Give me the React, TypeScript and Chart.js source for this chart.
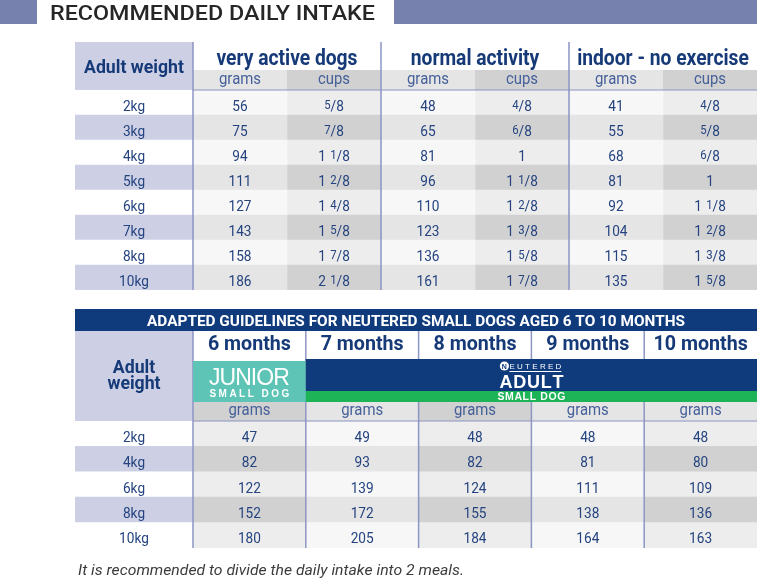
import React, { useEffect, useRef } from "react";
import { Chart, registerables } from "chart.js";
Chart.register(...registerables);

// ---------- DATA ----------
const TITLE = "RECOMMENDED DAILY INTAKE";
const weightHeader = "Adult weight";
const weights1 = ["2kg", "3kg", "4kg", "5kg", "6kg", "7kg", "8kg", "10kg"];
const groups1 = ["very active dogs", "normal activity", "indoor - no exercise"];
const subHeads1 = ["grams", "cups"];
const veryActiveGrams = [56, 75, 94, 111, 127, 143, 158, 186];
const veryActiveCups = ["5/8", "7/8", "1 1/8", "1 2/8", "1 4/8", "1 5/8", "1 7/8", "2 1/8"];
const normalGrams = [48, 65, 81, 96, 110, 123, 136, 161];
const normalCups = ["4/8", "6/8", "1", "1 1/8", "1 2/8", "1 3/8", "1 5/8", "1 7/8"];
const indoorGrams = [41, 55, 68, 81, 92, 104, 115, 135];
const indoorCups = ["4/8", "5/8", "6/8", "1", "1 1/8", "1 2/8", "1 3/8", "1 5/8"];

const TITLE2 = "ADAPTED GUIDELINES FOR NEUTERED SMALL DOGS AGED 6 TO 10 MONTHS";
const weightHeader2 = ["Adult", "weight"];
const weights2 = ["2kg", "4kg", "6kg", "8kg", "10kg"];
const months = ["6 months", "7 months", "8 months", "9 months", "10 months"];
const juniorLabel = ["JUNIOR", "SMALL DOG"];
const adultLabel = ["EUTERED", "ADULT", "SMALL DOG"];
const subHead2 = "grams";
const month6 = [47, 82, 122, 152, 180];
const month7 = [49, 93, 139, 172, 205];
const month8 = [48, 82, 124, 155, 184];
const month9 = [48, 81, 111, 138, 164];
const month10 = [48, 80, 109, 136, 163];
const FOOTNOTE = "It is recommended to divide the daily intake into 2 meals.";

// ---------- STYLE ----------
const FONT = "Roboto";
const C = {
  banner: "#7781ad",
  title: "#262626",
  lav: "#cdd0e5",
  line: "#8d95c3",
  head: "#163a78",
  sub: "#45609a",
  cell: "#24437f",
  lightA: "#f7f7f7",
  lightB: "#ededed",
  darkA: "#e5e5e5",
  darkB: "#d1d1d1",
  navy: "#0f3a7c",
  teal: "#5ec4b6",
  green: "#1db357",
  foot: "#3c3c3c",
};
type Sty = { font: string; sample: string; w: number };
const S: Record<string, Sty> = {
  title: { font: `500 20px ${FONT}`, sample: TITLE, w: 325 },
  group: { font: `bold 22px ${FONT}`, sample: "very active dogs", w: 141 },
  wHead: { font: `bold 18px ${FONT}`, sample: "Adult weight", w: 100 },
  sub: { font: `16px ${FONT}`, sample: "grams", w: 42 },
  cell: { font: `15px ${FONT}`, sample: "143", w: 23 },
  band: { font: `bold 15px ${FONT}`, sample: TITLE2, w: 538 },
  month: { font: `bold 21px ${FONT}`, sample: "6 months", w: 83 },
  foot: { font: `italic 15px ${FONT}`, sample: FOOTNOTE, w: 386 },
};

function sxOf(ctx: CanvasRenderingContext2D, s: Sty) {
  ctx.font = s.font;
  return s.w / ctx.measureText(s.sample).width;
}

function drawText(ctx: CanvasRenderingContext2D, t: string, x: number, y: number, st: Sty, color: string, align = "center") {
  const sx = sxOf(ctx, st);
  ctx.save();
  ctx.font = st.font;
  ctx.fillStyle = color;
  ctx.textAlign = "left";
  ctx.textBaseline = "alphabetic";
  const w = ctx.measureText(t).width * sx;
  const left = align === "center" ? x - w / 2 : align === "left" ? x : x - w;
  ctx.translate(left, y);
  ctx.scale(sx, 1);
  ctx.fillText(t, 0, 0);
  ctx.restore();
}

function spaced(ctx: CanvasRenderingContext2D, t: string, cx: number, y: number, font: string, color: string, target: number) {
  ctx.save();
  ctx.font = font;
  ctx.fillStyle = color;
  ctx.textAlign = "left";
  const chars = Array.from(t);
  const ws = chars.map((c) => ctx.measureText(c).width);
  const nat = ws.reduce((a, b) => a + b, 0);
  const gap = chars.length > 1 ? (target - nat) / (chars.length - 1) : 0;
  let x = cx - target / 2;
  chars.forEach((c, i) => {
    ctx.fillText(c, x, y);
    x += ws[i] + gap;
  });
  ctx.restore();
}

function drawCups(ctx: CanvasRenderingContext2D, t: string, cx: number, y: number, color: string) {
  const sx = sxOf(ctx, S.cell);
  const parts = t.split(" ");
  let whole = "";
  let frac = "";
  if (parts.length === 2) { whole = parts[0]; frac = parts[1]; }
  else if (t.includes("/")) frac = t;
  else whole = t;
  const big = `15px ${FONT}`;
  const small = `12.5px ${FONT}`;
  const pieces: [string, string, number][] = [];
  if (whole) pieces.push([whole, big, 0]);
  if (whole && frac) pieces.push([" ", big, 0]);
  if (frac) {
    const [n, d] = frac.split("/");
    pieces.push([n, small, -2]);
    pieces.push(["/", big, 0]);
    pieces.push([d, big, 0.5]);
  }
  ctx.save();
  ctx.fillStyle = color;
  ctx.textAlign = "left";
  const ws = pieces.map(([s, f]) => { ctx.font = f; return ctx.measureText(s).width * sx * (s === " " ? 1.3 : 1); });
  const total = ws.reduce((a, b) => a + b, 0);
  let x = cx - total / 2;
  pieces.forEach(([s, f, dy], i) => {
    ctx.font = f;
    ctx.save();
    ctx.translate(x, y + dy);
    ctx.scale(sx, 1);
    if (s !== " ") ctx.fillText(s, 0, 0);
    ctx.restore();
    x += ws[i];
  });
  ctx.restore();
}

function drawCellTexts(chart: any) {
  const ctx = chart.ctx as CanvasRenderingContext2D;
  chart.data.datasets.forEach((ds: any, di: number) => {
    const meta = chart.getDatasetMeta(di);
    meta.data.forEach((el: any, r: number) => {
      const p = el.getProps(["x", "y", "base"], true);
      const cx = (p.x + p.base) / 2;
      const t = ds.cellText[r];
      if (ds.frac) drawCups(ctx, String(t), cx, p.y + 8, C.cell);
      else drawText(ctx, String(t), cx, p.y + 8, S.cell, C.cell);
    });
  });
}

function vline(ctx: CanvasRenderingContext2D, x: number, y0: number, y1: number) {
  ctx.save();
  ctx.strokeStyle = C.line;
  ctx.lineWidth = 1.5;
  ctx.beginPath();
  ctx.moveTo(x, y0);
  ctx.lineTo(x, y1);
  ctx.stroke();
  ctx.restore();
}
function hline(ctx: CanvasRenderingContext2D, x0: number, x1: number, y: number) {
  ctx.save();
  ctx.strokeStyle = C.line;
  ctx.lineWidth = 1.2;
  ctx.beginPath();
  ctx.moveTo(x0, y);
  ctx.lineTo(x1, y);
  ctx.stroke();
  ctx.restore();
}

// ---------- TABLE 1 ----------
const W1 = 118 / 94; // weight column span, in data-column units
const T1 = W1 + 6;
const grams1 = [veryActiveGrams, normalGrams, indoorGrams];
const cups1 = [veryActiveCups, normalCups, indoorCups];

function datasets1() {
  const ds: any[] = [
    {
      data: weights1.map(() => [0, W1]),
      backgroundColor: weights1.map((_, r) => (r % 2 ? C.lav : "#ffffff")),
      cellText: weights1,
    },
  ];
  grams1.forEach((g, gi) => {
    ds.push({
      data: g.map(() => [W1 + 2 * gi, W1 + 2 * gi + 1]),
      backgroundColor: g.map((_, r) => (r % 2 ? C.darkA : C.lightA)),
      cellText: g,
    });
    ds.push({
      data: cups1[gi].map(() => [W1 + 2 * gi + 1, W1 + 2 * gi + 2]),
      backgroundColor: cups1[gi].map((_, r) => (r % 2 ? C.darkB : C.lightB)),
      cellText: cups1[gi],
      frac: true,
    });
  });
  return ds.map((d) => ({ ...d, grouped: false, borderWidth: 0, barPercentage: 1, categoryPercentage: 1 }));
}

const table1Plugin = {
  id: "table1",
  beforeDatasetsDraw(chart: any) {
    const { ctx, chartArea: a, scales } = chart;
    const px = (v: number) => scales.x.getPixelForValue(v);
    ctx.save();
    ctx.fillStyle = C.banner;
    ctx.fillRect(0, a.top - 90, 37, 24);
    ctx.fillRect(394, a.top - 90, chart.width - 394, 24);
    ctx.fillStyle = C.lav;
    ctx.fillRect(px(0), a.top - 48, px(W1) - px(0), 48);
    for (let i = 0; i < 6; i++) {
      ctx.fillStyle = i % 2 ? C.darkB : C.darkA;
      ctx.fillRect(px(W1 + i), a.top - 20, px(W1 + i + 1) - px(W1 + i), 20);
    }
    ctx.restore();
  },
  afterDatasetsDraw(chart: any) {
    const { ctx, chartArea: a, scales } = chart;
    const px = (v: number) => scales.x.getPixelForValue(v);
    drawText(ctx, TITLE, 50, a.top - 70, S.title, C.title, "left");
    hline(ctx, px(W1), px(T1), a.top);
    [0, 2, 4].forEach((i) => vline(ctx, px(W1 + i), a.top - 48, a.bottom));
    drawText(ctx, weightHeader, (px(0) + px(W1)) / 2, a.top - 17, S.wHead, C.head);
    groups1.forEach((g, gi) => {
      drawText(ctx, g, (px(W1 + 2 * gi) + px(W1 + 2 * gi + 2)) / 2, a.top - 25, S.group, C.head);
    });
    for (let i = 0; i < 6; i++) {
      drawText(ctx, subHeads1[i % 2], (px(W1 + i) + px(W1 + i + 1)) / 2, a.top - 6, S.sub, C.sub);
    }
    drawCellTexts(chart);
  },
};

// ---------- TABLE 2 ----------
const W2 = 118 / 112.8;
const T2 = W2 + 5;
const monthData = [month6, month7, month8, month9, month10];

function datasets2() {
  const ds: any[] = [
    {
      data: weights2.map(() => [0, W2]),
      backgroundColor: weights2.map((_, r) => (r % 2 ? C.lav : "#ffffff")),
      cellText: weights2,
    },
  ];
  monthData.forEach((m, mi) => {
    const dark = mi % 2 === 0;
    ds.push({
      data: m.map(() => [W2 + mi, W2 + mi + 1]),
      backgroundColor: m.map((_, r) => (r % 2 ? (dark ? C.darkB : C.darkA) : dark ? C.lightB : C.lightA)),
      cellText: m,
    });
  });
  return ds.map((d) => ({ ...d, grouped: false, borderWidth: 0, barPercentage: 1, categoryPercentage: 1 }));
}

const table2Plugin = {
  id: "table2",
  beforeDatasetsDraw(chart: any) {
    const { ctx, chartArea: a, scales } = chart;
    const px = (v: number) => scales.x.getPixelForValue(v);
    ctx.save();
    ctx.fillStyle = C.navy;
    ctx.fillRect(px(0), a.top - 112, px(T2) - px(0), 22);
    ctx.fillStyle = C.lav;
    ctx.fillRect(px(0), a.top - 90, px(W2) - px(0), 90);
    const gramsShade = [C.darkB, C.darkA, C.darkB, C.darkA, C.darkA];
    for (let i = 0; i < 5; i++) {
      ctx.fillStyle = gramsShade[i];
      ctx.fillRect(px(W2 + i), a.top - 19, px(W2 + i + 1) - px(W2 + i), 19);
    }
    ctx.restore();
  },
  afterDatasetsDraw(chart: any) {
    const { ctx, chartArea: a, scales } = chart;
    const px = (v: number) => scales.x.getPixelForValue(v);
    hline(ctx, px(W2), px(T2), a.top);
    for (let i = 0; i < 5; i++) vline(ctx, px(W2 + i), a.top - 90, a.bottom);
    // junior block
    ctx.save();
    ctx.fillStyle = C.teal;
    ctx.fillRect(px(W2), a.top - 60, px(W2 + 1) - px(W2), 41);
    // adult block
    ctx.fillStyle = C.navy;
    ctx.fillRect(px(W2 + 1), a.top - 62, px(T2) - px(W2 + 1), 32);
    ctx.fillStyle = C.green;
    ctx.fillRect(px(W2 + 1), a.top - 30, px(T2) - px(W2 + 1), 11);
    ctx.restore();

    drawText(ctx, TITLE2, (px(0) + px(T2)) / 2, a.top - 95, S.band, "#ffffff");
    const wc = (px(0) + px(W2)) / 2;
    drawText(ctx, weightHeader2[0], wc, a.top - 48, S.wHead, C.head);
    drawText(ctx, weightHeader2[1], wc, a.top - 32, S.wHead, C.head);
    months.forEach((m, i) => {
      const cx = (px(W2 + i) + px(W2 + i + 1)) / 2;
      drawText(ctx, m, cx, a.top - 71, S.month, C.head);
      drawText(ctx, subHead2, cx, a.top - 6, S.sub, C.sub);
    });
    // junior text
    const jc = (px(W2) + px(W2 + 1)) / 2;
    spaced(ctx, juniorLabel[0], jc, a.top - 36, `23px "Liberation Sans"`, "#ffffff", 81);
    spaced(ctx, juniorLabel[1], jc, a.top - 24, `bold 10px "Liberation Sans"`, "#ffffff", 80);
    // adult text
    const ac = (px(W2 + 1) + px(T2)) / 2;
    ctx.save();
    ctx.fillStyle = "#ffffff";
    ctx.beginPath();
    ctx.arc(ac - 27, a.top - 55, 4.6, 0, Math.PI * 2);
    ctx.fill();
    ctx.fillStyle = C.navy;
    ctx.font = `bold 7px "Liberation Sans"`;
    ctx.textAlign = "center";
    ctx.fillText("N", ac - 27, a.top - 52.5);
    ctx.fillStyle = "#ffffff";
    ctx.fillRect(ac - 22, a.top - 50, 52, 1);
    ctx.restore();
    spaced(ctx, adultLabel[0], ac + 4, a.top - 52, `8px "Liberation Sans"`, "#ffffff", 52);
    spaced(ctx, adultLabel[1], ac, a.top - 33, `bold 18px "Liberation Sans"`, "#ffffff", 64);
    spaced(ctx, adultLabel[2], ac, a.top - 21, `bold 10.5px "Liberation Sans"`, "#ffffff", 68);

    drawCellTexts(chart);
    drawText(ctx, FOOTNOTE, 78, a.bottom + 27, S.foot, C.foot, "left");
  },
};

function makeConfig(labels: string[], datasets: any[], max: number, padding: any, plugin: any): any {
  return {
    type: "bar",
    data: { labels, datasets },
    options: {
      indexAxis: "y",
      responsive: false,
      animation: false,
      events: [],
      layout: { padding },
      scales: {
        x: { type: "linear", min: 0, max, display: false },
        y: { type: "category", display: false },
      },
      plugins: { legend: { display: false }, tooltip: { enabled: false } },
    },
    plugins: [plugin],
  };
}

export default function App() {
  const ref1 = useRef<HTMLCanvasElement>(null);
  const ref2 = useRef<HTMLCanvasElement>(null);
  useEffect(() => {
    const c1 = new Chart(ref1.current!, makeConfig(weights1, datasets1(), T1, { left: 75, right: 0, top: 90, bottom: 10 }, table1Plugin));
    const c2 = new Chart(ref2.current!, makeConfig(weights2, datasets2(), T2, { left: 75, right: 0, top: 121, bottom: 32 }, table2Plugin));
    let alive = true;
    const fonts: any = (document as any).fonts;
    if (fonts && fonts.load) {
      Promise.all([
        fonts.load(`15px ${FONT}`),
        fonts.load(`bold 15px ${FONT}`),
        fonts.load(`italic 15px ${FONT}`),
        fonts.load(`500 15px ${FONT}`),
        fonts.load(`15px "Liberation Sans"`),
        fonts.load(`bold 15px "Liberation Sans"`),
      ]).then(() => {
        if (alive) { c1.update(); c2.update(); }
      }).catch(() => {});
    }
    return () => {
      alive = false;
      c1.destroy();
      c2.destroy();
    };
  }, []);
  return (
    <div style={{ position: "absolute", left: 0, top: 0, width: 757, height: 580, background: "#ffffff", overflow: "hidden" }}>
      <canvas ref={ref1} width={757} height={300} style={{ position: "absolute", left: 0, top: 0 }} />
      <canvas ref={ref2} width={757} height={280} style={{ position: "absolute", left: 0, top: 300 }} />
    </div>
  );
}
